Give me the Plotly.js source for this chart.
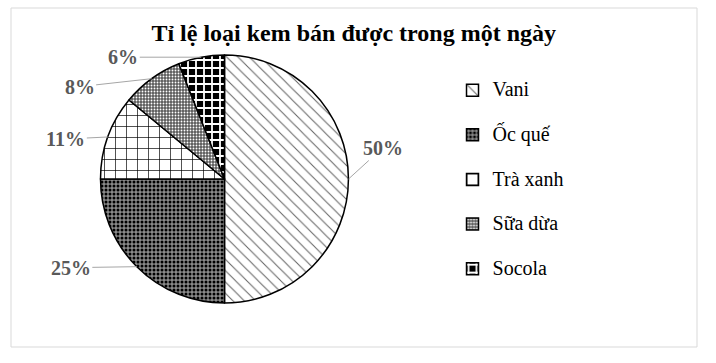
<!DOCTYPE html>
<html>
<head>
<meta charset="utf-8">
<script src="https://cdn.plot.ly/plotly-3.0.1.min.js"></script>
<style>html,body{margin:0;padding:0;background:#fff;}#chart{width:716px;height:363px;}</style>
</head>
<body>
<div id="chart"></div>
<script>
// ---- data ----
const categories = ['Vani', 'Ốc quế', 'Trà xanh', 'Sữa dừa', 'Socola'];
const values = [50, 25, 11, 8, 6];
const chartTitle = 'Tỉ lệ loại kem bán được trong một ngày';

// ---- style / layout constants ----
const W = 716, H = 363;
const FONT = 'Liberation Serif';
const pieCx = 224.5, pieCy = 179, pieR = 124;           // pixels
const labelOffsets = [[34, -31], [-66, 1], [-42, 2], [-72, 8], [-78, 0]]; // pixel offsets of labels from slice edge

const patShapes = ['\\', '.', '+', '.', '+'];
const patFg = ['#666', '#000', '#000', '#fff', '#fff'];
const patBg = ['#fff', '#8a8a8a', '#fff', '#5a5a5a', '#000'];
const patSize = [8, 4, 11, 3, 8];
const patSolid = [0.13, 0.45, 0.12, 0.3, 0.4];

const domainX = [(pieCx - pieR) / W, (pieCx + pieR) / W];
const domainY = [1 - (pieCy + pieR) / H, 1 - (pieCy - pieR) / H];

const total = values.reduce((a, b) => a + b, 0);
const legendLabels = categories.map(c =>
  '<span style="font-size:20px">' + c + '</span><br> ');

const trace = {
  type: 'pie',
  labels: legendLabels,
  values: values,
  sort: false,
  direction: 'clockwise',
  rotation: 0,
  domain: {x: domainX, y: domainY},
  textinfo: 'none',
  hoverinfo: 'percent',
  marker: {
    colors: patBg,
    line: {color: '#000', width: 1.5},
    pattern: {shape: patShapes, fgcolor: patFg, bgcolor: patBg, size: patSize, solidity: patSolid, fillmode: 'replace'}
  }
};

// labels with leader lines, computed from the data
const annotations = [];
let cum = 0;
values.forEach((v, i) => {
  const mid = (cum + v / 2) / total * 2 * Math.PI;
  cum += v;
  const px = pieCx + pieR * Math.sin(mid);
  const py = pieCy - pieR * Math.cos(mid);
  annotations.push({
    x: px / W, y: 1 - py / H, xref: 'paper', yref: 'paper',
    text: Math.round(v / total * 100) + '%',
    showarrow: true, arrowhead: 0, arrowwidth: 1, arrowcolor: '#a6a6a6', standoff: 0,
    ax: labelOffsets[i][0], ay: labelOffsets[i][1],
    font: {family: FONT, size: 20, color: '#595959', weight: 'bold'}
  });
});

const layout = {
  width: W, height: H,
  margin: {l: 0, r: 0, t: 0, b: 0},
  paper_bgcolor: '#fff',
  font: {family: FONT, color: '#000'},
  title: {text: '<b>' + chartTitle + '</b>', font: {family: FONT, size: 24, color: '#000'},
          x: 0.494, xanchor: 'center', y: 1 - 33 / H, yanchor: 'middle'},
  showlegend: true,
  legend: {x: 0.632, xanchor: 'left', y: 0.798, yanchor: 'top', valign: 'top',
           font: {family: FONT, size: 16, color: '#000'}, bgcolor: 'rgba(0,0,0,0)'},
  annotations: annotations,
  shapes: [{type: 'rect', xref: 'paper', yref: 'paper',
            x0: 11 / W, x1: 697 / W, y0: 1 - 347 / H, y1: 1 - 8 / H,
            line: {color: '#d9d9d9', width: 1}, fillcolor: 'rgba(0,0,0,0)', layer: 'below'}]
};

Plotly.newPlot('chart', [trace], layout, {displayModeBar: false, staticPlot: true});
</script>
</body>
</html>
